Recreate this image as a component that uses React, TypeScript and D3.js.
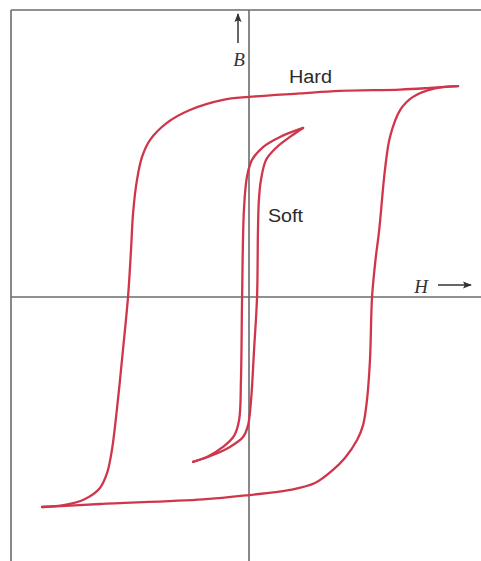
import React from "react";
import * as d3 from "d3";

// Hysteresis loops: H (field) vs B (flux density), arbitrary units
const hardUpperH = [9.09, 7.87, 6.57, 3.96, 2.22, 0, -1.13, -2.57, -3.57, -4.3, -4.65, -4.87, -5.04, -5.13, -5.26, -5.48, -5.7, -5.96, -6.17, -6.48, -7.13, -8.0, -9.0];
const hardUpperB = [9.17, 9.09, 9.02, 8.96, 8.85, 8.7, 8.57, 8.13, 7.57, 6.83, 6.09, 5.09, 3.65, 2.04, 0, -2.3, -4.48, -6.65, -7.65, -8.3, -8.78, -9.04, -9.13];

const hardLowerH = [-9.0, -6.48, -2.0, 0, 1.78, 2.87, 3.65, 4.17, 4.7, 4.96, 5.13, 5.26, 5.35, 5.5, 5.66, 5.91, 6.13, 6.57, 7.13, 8.09, 9.09];
const hardLowerB = [-9.13, -9.0, -8.8, -8.61, -8.39, -8.09, -7.52, -7.0, -6.22, -5.57, -4.48, -2.74, 0, 1.61, 2.91, 5.52, 6.96, 8.13, 8.7, 9.07, 9.17];

const softUpperH = [2.35, 1.35, 0.61, 0.13, -0.09, -0.22, -0.3, -0.35, -0.43, -0.65, -1.13, -1.83, -2.43];
const softUpperB = [7.35, 6.96, 6.52, 5.96, 5.22, 3.78, 0, -3.61, -5.35, -6.04, -6.52, -6.96, -7.17];

const softLowerH = [-2.43, -1.57, -0.83, -0.26, -0.04, 0.09, 0.22, 0.35, 0.39, 0.43, 0.52, 0.74, 1.17, 1.78, 2.35];
const softLowerB = [-7.17, -6.87, -6.52, -6.09, -5.57, -4.48, -2.3, 0, 2.91, 4.22, 5.09, 5.96, 6.48, 6.96, 7.35];

const loopLabels = ["Hard", "Soft"];
const axisLabels = ["B", "H"];

const W = 481;
const H = 561;

const x = d3.scaleLinear().domain([-10, 10]).range([19, 479]);
const y = d3.scaleLinear().domain([-10, 10]).range([527, 67]);

type Pt = [number, number];
const zip = (hs: number[], bs: number[]): Pt[] => hs.map((h, i) => [h, bs[i]]);

const line = d3
  .line<Pt>()
  .x((d) => x(d[0]))
  .y((d) => y(d[1]))
  .curve(d3.curveCatmullRom.alpha(0.5));

const RED = "#d0364b";
const GRAY = "#6b6b6b";

export default function App() {
  const x0 = x(0);
  const y0 = y(0);
  const curves = [
    zip(hardUpperH, hardUpperB),
    zip(hardLowerH, hardLowerB),
    zip(softUpperH, softUpperB),
    zip(softLowerH, softLowerB),
  ];
  return (
    <svg
      width={W}
      height={H}
      style={{ position: "absolute", left: 0, top: 0, background: "#fff" }}
    >
      <defs>
        <marker id="ah" viewBox="0 0 10 10" refX="9" refY="5" markerWidth="6" markerHeight="6" orient="auto" markerUnits="strokeWidth">
          <path d="M0,1 L10,5 L0,9 L2,5 Z" fill="#333" />
        </marker>
      </defs>
      {/* frame */}
      <line x1={11} y1={10} x2={W} y2={10} stroke={GRAY} strokeWidth={1.6} />
      <line x1={11} y1={10} x2={11} y2={H} stroke={GRAY} strokeWidth={1.6} />
      {/* axes */}
      <line x1={11} y1={y0} x2={W} y2={y0} stroke={GRAY} strokeWidth={1.6} />
      <line x1={x0} y1={10} x2={x0} y2={H} stroke={GRAY} strokeWidth={1.6} />

      {/* loops */}
      {curves.map((c, i) => (
        <path key={i} d={line(c) ?? ""} fill="none" stroke={RED} strokeWidth={2.3} strokeLinecap="round" />
      ))}

      {/* axis labels */}
      <line x1={238} y1={43} x2={238} y2={14} stroke="#333" strokeWidth={1.5} markerEnd="url(#ah)" />
      <text x={239} y={66} textAnchor="middle" fontFamily="'Liberation Serif', serif" fontStyle="italic" fontSize={19} fill="#333">
        {axisLabels[0]}
      </text>
      <text x={421} y={293} textAnchor="middle" fontFamily="'Liberation Serif', serif" fontStyle="italic" fontSize={19} fill="#333">
        {axisLabels[1]}
      </text>
      <line x1={438} y1={285} x2={471} y2={285} stroke="#333" strokeWidth={1.5} markerEnd="url(#ah)" />

      <text x={289} y={83} fontFamily="'Liberation Sans', Arial, sans-serif" fontSize={18} fill="#2a2a2a" textLength={43} lengthAdjust="spacingAndGlyphs">
        {loopLabels[0]}
      </text>
      <text x={268} y={222} fontFamily="'Liberation Sans', Arial, sans-serif" fontSize={18} fill="#2a2a2a" textLength={35} lengthAdjust="spacingAndGlyphs">
        {loopLabels[1]}
      </text>
    </svg>
  );
}
